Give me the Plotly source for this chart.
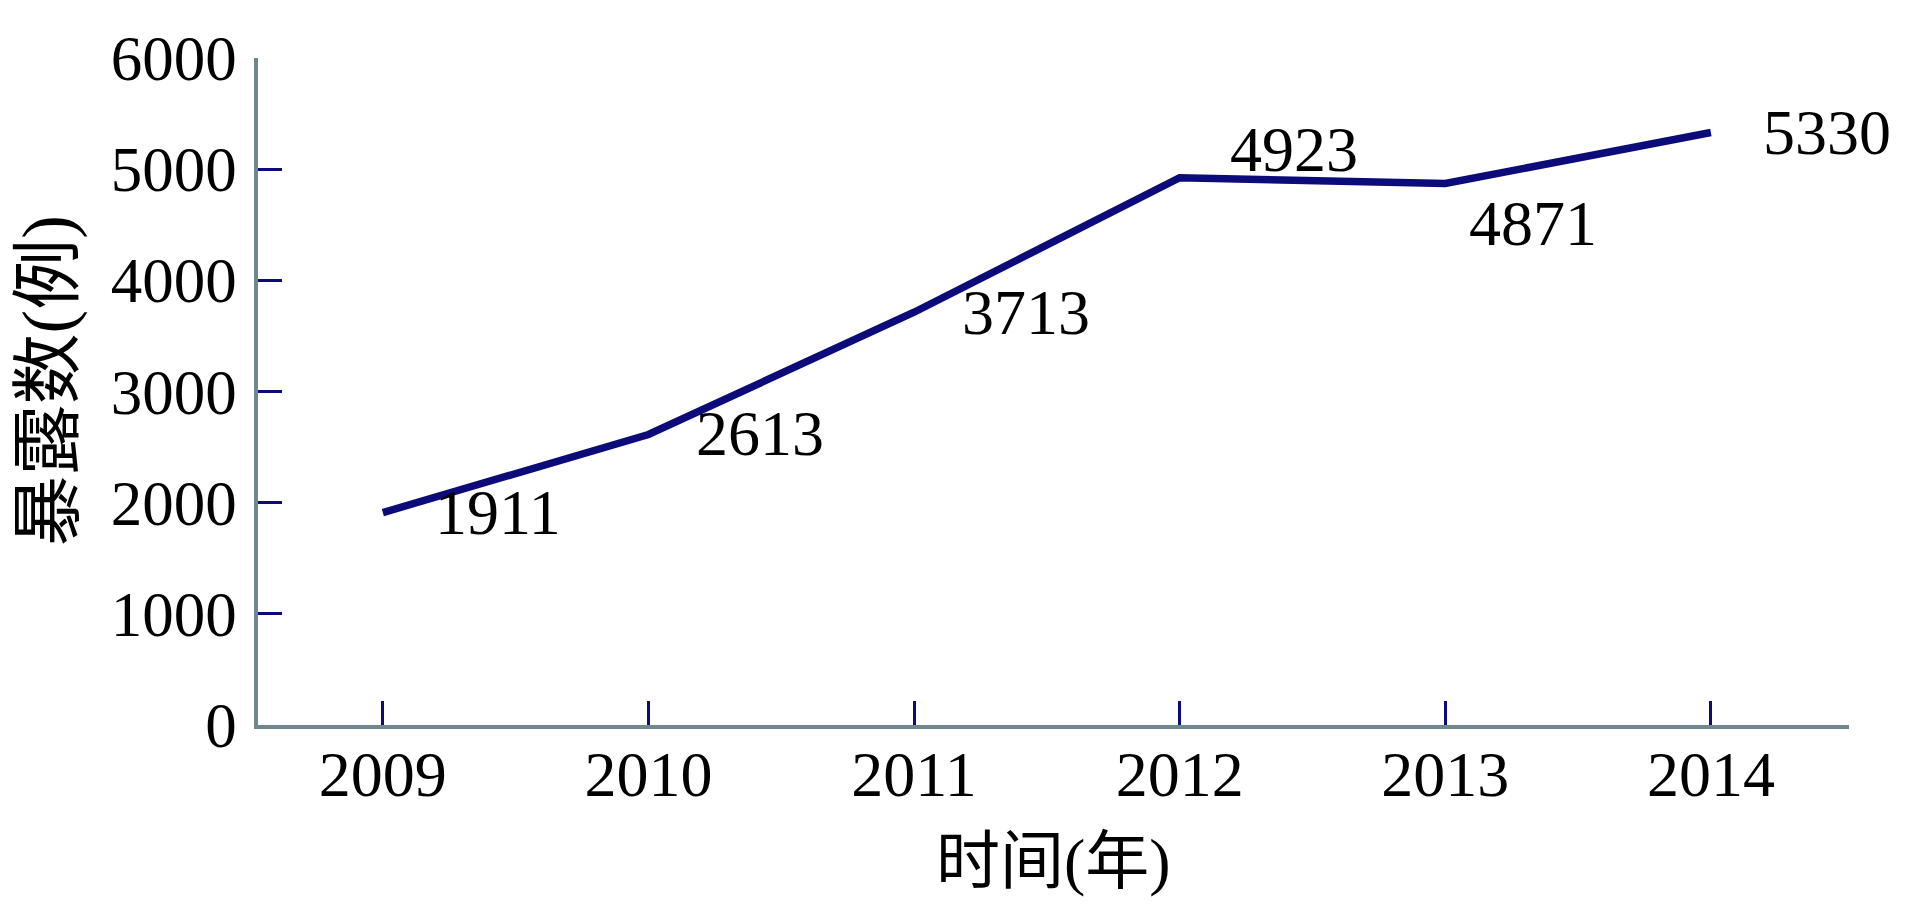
import plotly.graph_objects as go

years = ["2009", "2010", "2011", "2012", "2013", "2014"]
cases = [1911, 2613, 3713, 4923, 4871, 5330]
y_ticks = [0, 1000, 2000, 3000, 4000, 5000, 6000]
x_title = "时间(年)"
y_title = "暴露数(例)"

# label offsets (pixels) — style only
label_dx = [50, 46, 46, 48, 22, 50]
label_dy = [0, 1, 0, 28, -40, 0]

FONT = "Liberation Serif, Times New Roman, Noto Sans CJK SC, serif"
NAVY = "#0b0b7a"
AXIS = "#6f8890"

fig = go.Figure()
fig.add_trace(go.Scatter(
    x=years, y=cases, mode="lines",
    line=dict(color=NAVY, width=7.5),
    hoverinfo="skip", showlegend=False,
))

# data labels positioned by category index on the same x axis
for i, yv in enumerate(cases):
    fig.add_annotation(
        x=i, y=yv, xref="x", yref="y", text=str(yv),
        showarrow=False, xanchor="left", yanchor="middle",
        xshift=label_dx[i], yshift=label_dy[i],
        font=dict(family=FONT, size=64, color="#000000"),
    )

# axis titles
fig.add_annotation(
    x=0.5, y=0, xref="paper", yref="paper", text=x_title,
    showarrow=False, xanchor="center", yanchor="middle", yshift=-136,
    font=dict(family=FONT, size=64, color="#000000"),
)
fig.add_annotation(
    x=0, y=0.5, xref="paper", yref="paper", text=y_title, textangle=-90,
    showarrow=False, xanchor="center", yanchor="middle", xshift=-210, yshift=10,
    font=dict(family=FONT, size=71, color="#000000"),
)

fig.update_layout(
    width=1921, height=909,
    margin=dict(l=258, r=72, t=58, b=184),
    paper_bgcolor="#ffffff", plot_bgcolor="#ffffff",
    font=dict(family=FONT, size=63, color="#000000"),
    xaxis=dict(
        type="category", range=[-0.47, 5.52],
        showgrid=False, zeroline=False,
        showline=True, linecolor=AXIS, linewidth=3.5,
        ticks="inside", ticklen=24, tickwidth=3, tickcolor=NAVY,
        tickfont=dict(family=FONT, size=64, color="#000000"),
        ticklabelstandoff=-10,
    ),
    yaxis=dict(
        range=[0, 6000], tickvals=y_ticks,
        showgrid=False, zeroline=False,
        showline=True, linecolor=AXIS, linewidth=3.5,
        ticks="inside", ticklen=24, tickwidth=3, tickcolor=NAVY,
        tickfont=dict(family=FONT, size=63, color="#000000"),
        ticklabelstandoff=5,
    ),
)

fig.write_html(
    "out.html",
    config={"displayModeBar": False},
    post_script="document.body.style.margin='0';document.body.style.overflow='hidden';",
)
